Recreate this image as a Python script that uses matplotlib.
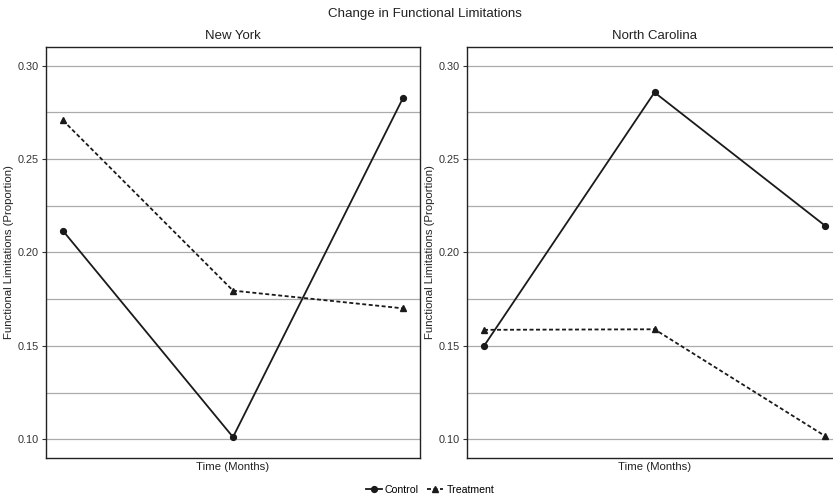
import matplotlib.pyplot as plt
import matplotlib.lines as mlines

plt.rcParams['font.family'] = ['Liberation Sans', 'DejaVu Sans']

months = [1, 2, 3]
ny_control = [0.2116, 0.1012, 0.2827]
ny_treatment = [0.2707, 0.1796, 0.1701]
nc_control = [0.1500, 0.2857, 0.2144]
nc_treatment = [0.1586, 0.1589, 0.1018]
y_ticks = [0.10, 0.15, 0.20, 0.25, 0.30]
y_minor = [0.125, 0.175, 0.225, 0.275]

W, H = 833, 501
fig = plt.figure(figsize=(W / 100, H / 100), dpi=100)

# axes positions in pixels: (left, top, right, bottom)
panels = [
    ('New York', ny_control, ny_treatment, (46, 47, 420, 458)),
    ('North Carolina', nc_control, nc_treatment, (467, 47, 842, 458)),
]

line_col = '#1a1a1a'
txt_col = '#222222'
for title, ctrl, trt, (l, t, r, b) in panels:
    ax = fig.add_axes([l / W, 1 - b / H, (r - l) / W, (b - t) / H])
    for yv in y_ticks + y_minor:
        ax.axhline(yv, color='#ababab', lw=0.9, zorder=0)
    ax.plot(months, ctrl, color=line_col, lw=1.3, marker='o', ms=4.2)
    ax.plot(months, trt, color=line_col, lw=1.3, marker='^', ms=4.5,
            dashes=(2.2, 1.4))
    ax.set_xlim(0.9, 3.1)
    ax.set_ylim(0.09, 0.31)
    ax.set_yticks(y_ticks)
    ax.set_yticklabels([f'{v:.2f}' for v in y_ticks])
    ax.set_xticks([])
    ax.tick_params(axis='y', length=3, width=0.8, labelsize=7.8,
                   colors='#333333', pad=2)
    for s in ax.spines.values():
        s.set_linewidth(1.0)
        s.set_color(txt_col)
    ax.set_xlabel('Time (Months)', fontsize=8.2, color=txt_col, labelpad=3)
    ax.set_ylabel('Functional Limitations (Proportion)', fontsize=8.2,
                  color=txt_col, labelpad=3)
    ax.set_title(title, fontsize=9.5, color=txt_col, pad=6)

fig.text(425 / W, 1 - 14 / H, 'Change in Functional Limitations',
         ha='center', va='center', fontsize=9.6, color=txt_col)

h1 = mlines.Line2D([], [], color=line_col, lw=1.3, marker='o', ms=4.2)
h2 = mlines.Line2D([], [], color=line_col, lw=1.3, marker='^', ms=4.5,
                   dashes=(2.2, 1.4))
fig.legend([h1, h2], ['Control', 'Treatment'], loc='center',
           bbox_to_anchor=(430 / W, 1 - 490 / H), ncol=2, frameon=False,
           fontsize=7.6, handlelength=1.5, handletextpad=0.3,
           columnspacing=0.8)

fig.savefig('out.png', dpi=100)
